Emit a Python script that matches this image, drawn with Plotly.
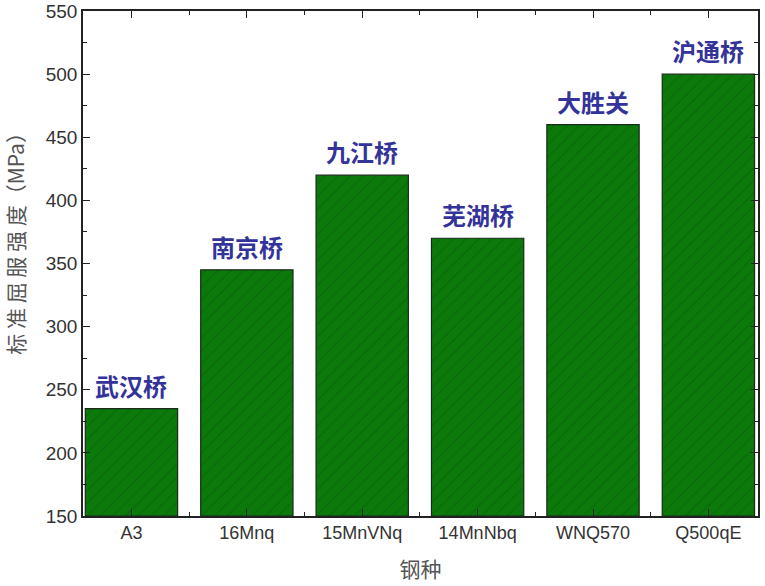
import plotly.graph_objects as go

categories = ["A3", "16Mnq", "15MnVNq", "14MnNbq", "WNQ570", "Q500qE"]
values = [235, 345, 420, 370, 460, 500]
bridges = ["武汉桥", "南京桥", "九江桥", "芜湖桥", "大胜关", "沪通桥"]
y_ticks = [150, 200, 250, 300, 350, 400, 450, 500, 550]

xs = list(range(len(categories)))

fig = go.Figure()
fig.add_trace(go.Bar(
    x=xs, y=[v - 150 for v in values], base=150, width=0.8,
    marker=dict(color="#0b7a0b",
                line=dict(color="#1a2a1a", width=1.2),
                pattern=dict(shape="/", fgcolor="#0a5a0a", bgcolor="#0b7a0b",
                             size=9, solidity=0.15)),
    hoverinfo="skip", showlegend=False,
))

for x, v, t in zip(xs, values, bridges):
    fig.add_annotation(x=x, y=v, text="<b>" + t + "</b>", showarrow=False,
                       yanchor="bottom", yshift=4,
                       font=dict(family="Noto Sans CJK SC", size=24, color="#33339a"))

fig.add_annotation(xref="paper", yref="paper", x=-0.1, y=0.55, xanchor="center",
                   yanchor="middle", textangle=-90, showarrow=False,
                   text="标 准 屈 服 强 度（MPa）",
                   font=dict(family="Noto Sans CJK SC", size=21, color="#555555"))

fig.update_layout(
    width=765, height=586,
    margin=dict(l=83, r=7, t=11, b=70, autoexpand=False),
    plot_bgcolor="white", paper_bgcolor="white",
    bargap=0.2,
)
fig.update_xaxes(
    range=[-0.42, 5.43], tickvals=xs, ticktext=categories, automargin=False,
    tickfont=dict(family="Liberation Sans, Arial", size=18, color="#333333"),
    ticks="inside", ticklen=7, tickcolor="#222", showline=True, linecolor="#222",
    linewidth=1.5, mirror="ticks", showgrid=False, zeroline=False,
    minor=dict(ticks="inside", ticklen=4, tick0=0.5, dtick=1, tickcolor="#222"),
    title=dict(text="钢种", font=dict(family="Noto Sans CJK SC", size=21, color="#555555"),
               standoff=20),
)
fig.update_yaxes(
    range=[150, 550], tickvals=y_ticks, automargin=False,
    tickfont=dict(family="Liberation Sans, Arial", size=19, color="#333333"),
    ticks="inside", ticklen=7, tickcolor="#222", showline=True, linecolor="#222",
    linewidth=1.5, mirror="ticks", showgrid=False, zeroline=False,
    minor=dict(ticks="inside", ticklen=4, dtick=25, tickcolor="#222"),
)

fig.write_html("out.html", config={"displayModeBar": False},
               post_script="document.body.style.margin='0';")
